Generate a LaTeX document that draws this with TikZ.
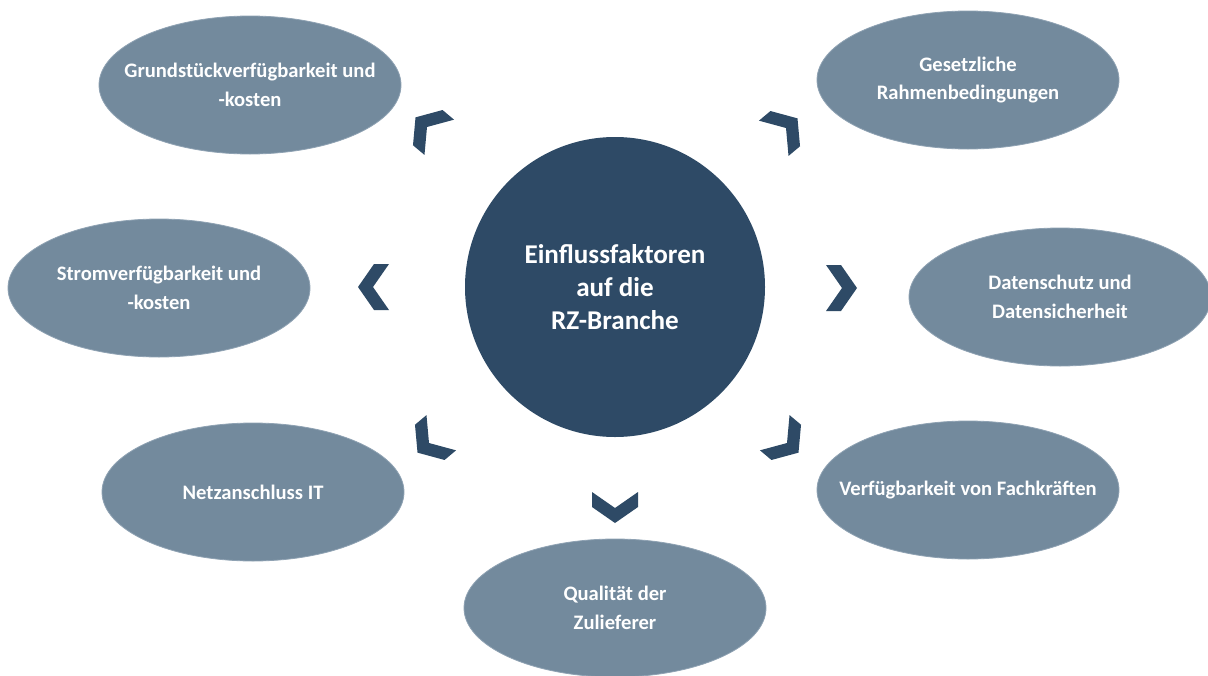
\documentclass[tikz,border=0pt]{standalone}
\usepackage{fontspec}
\setmainfont{Carlito}
\usetikzlibrary{shapes.geometric}
\definecolor{darkblue}{HTML}{2E4A66}
\definecolor{greyblue}{HTML}{738A9D}
\definecolor{rimblue}{HTML}{8FA2B3}
\tikzset{
  factor/.style={ellipse, fill=greyblue, draw=rimblue, line width=0.8pt,
    minimum width=302pt, minimum height=138pt, inner sep=0pt},
  factortext/.style={text=white, align=center, inner sep=0pt,
    font=\fontsize{20.6}{28.5}\selectfont\bfseries},
  hub/.style={circle, fill=darkblue, minimum size=300pt, inner sep=0pt,
    text=white, align=center, font=\fontsize{27.1}{33}\selectfont\bfseries},
  chevfill/.style={fill=darkblue, draw=none}
}
\newcommand{\chevronat}[3]{%
  \begin{scope}[shift={(#1,#2)}, rotate=#3]
    \fill[chevfill] (-16,-23) -- (-1,-23) -- (15,0) -- (-1,23) -- (-16,23) -- (0,0) -- cycle;
  \end{scope}}
\begin{document}
\begin{tikzpicture}[x=1pt, y=-1pt]
\useasboundingbox (0,0) rectangle (1208,675);
\fill[white] (0,0) rectangle (1208,675);

\node[hub] (hub) at (615,287) {Einflussfaktoren\\auf die\\RZ-Branche};

\node[factor] (grund) at (250,85) {};
\node[factortext] (grundt) at (grund.center) {Grundstückverfügbarkeit und\\-kosten};
\node[factor] (gesetz) at (968,80) {};
\node[factortext] (gesetzt) at (gesetz.center) {Gesetzliche\\Rahmenbedingungen};
\node[factor] (strom) at (159,288) {};
\node[factortext] (stromt) at (strom.center) {Stromverfügbarkeit und\\-kosten};
\node[factor] (daten) at (1060,297) {};
\node[factortext] (datent) at (daten.center) {Datenschutz und\\Datensicherheit};
\node[factor] (netz) at (253,492) {};
\node[factortext] (netzt) at (netz.center) {Netzanschluss IT};
\node[factor] (fach) at (968,490) {};
\node[factortext] (facht) at (fach.center) {Verfügbarkeit von Fachkräften};
\node[factor] (zuliefer) at (615,608) {};
\node[factortext] (zuliefert) at (zuliefer.center) {Qualität der\\Zulieferer};

\chevronat{427}{127}{140}
\chevronat{786}{128}{40}
\chevronat{373}{287}{180}
\chevronat{842}{288}{0}
\chevronat{429}{443}{220}
\chevronat{787}{443}{-40}
\chevronat{615}{508}{-90}
\end{tikzpicture}
\end{document}
